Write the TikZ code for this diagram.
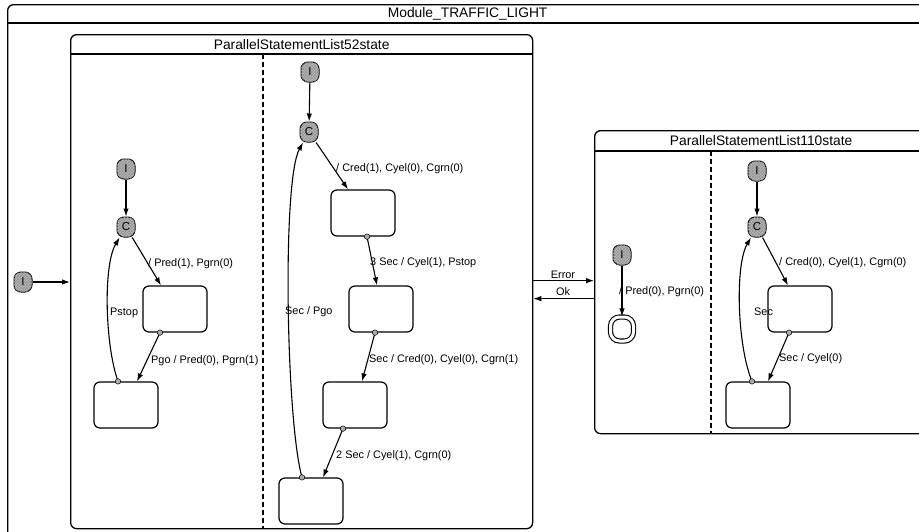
\documentclass[tikz,border=0pt]{standalone}
\usepackage{fontspec}
\setmainfont{Liberation Sans}
\usetikzlibrary{arrows.meta,patterns}
\begin{document}
\begin{tikzpicture}[x=1pt,y=-1pt,
  lw/.style={line width=1.2pt},
  box/.style={draw,line width=1.3pt,rounded corners=6pt,inner sep=0pt},
  st/.style={draw,line width=1.2pt,rounded corners=6pt,minimum width=64pt,minimum height=46pt,inner sep=0pt},
  ps/.style={draw,line width=1pt,rectangle,rounded corners=7pt,fill=gray!55,
    postaction={pattern=crosshatch,pattern color=gray!85},
    minimum width=18pt,minimum height=20pt,inner sep=0pt,font=\fontsize{11.5}{12}\selectfont},
  dotn/.style={draw,circle,fill=gray!65,minimum size=5.5pt,inner sep=0pt,line width=0.5pt},
  arr/.style={line width=1.1pt,-{Latex[length=8pt,width=5.5pt]}},
  lbl/.style={font=\fontsize{10.9}{12}\selectfont,inner sep=0pt,anchor=west},
  ttl/.style={font=\fontsize{13.8}{14}\selectfont,inner sep=0pt},
  sep/.style={line width=1.1pt,dash pattern=on 5pt off 3pt}
]
\useasboundingbox (0,0) rectangle (919,531);
\clip (0,0) rectangle (919,531);

% containers
\node[box,minimum width=920pt,minimum height=545pt,anchor=north west] (mod) at (7,4) {};
\draw[lw] ([yshift=-19pt]mod.north west) -- ([yshift=-19pt]mod.north east);
\node[ttl] (modt) at ([yshift=-10pt]mod.north) {Module\_TRAFFIC\_LIGHT};

\node[box,minimum width=462pt,minimum height=494pt,anchor=north west] (p52) at (70,34) {};
\draw[lw] ([yshift=-20pt]p52.north west) -- ([yshift=-20pt]p52.north east);
\node[ttl] (p52t) at ([yshift=-10.5pt]p52.north) {ParallelStatementList52state};
\coordinate (d52a) at (263,54);
\coordinate (d52b) at (263,528);
\draw[sep] (d52a) -- (d52b);

\node[box,minimum width=333pt,minimum height=303pt,anchor=north west] (p110) at (594,130) {};
\draw[lw] ([yshift=-21pt]p110.north west) -- ([yshift=-21pt]p110.north east);
\node[ttl] (p110t) at ([yshift=-11pt]p110.north) {ParallelStatementList110state};
\coordinate (d110a) at (711,151);
\coordinate (d110b) at (711,433);
\draw[sep] (d110a) -- (d110b);

% pseudo states
\node[ps] (i0) at (23,282) {I};
\node[ps] (i1) at (126,169) {I};
\node[ps] (c1) at (126,227) {C};
\node[ps] (i2) at (310,72) {I};
\node[ps] (c2) at (309,132) {C};
\node[ps] (i3) at (622,255) {I};
\node[ps] (i4) at (757,171) {I};
\node[ps] (c4) at (757,227) {C};
\node[draw,rectangle,rounded corners=9pt,line width=1.1pt,minimum width=23pt,minimum height=24pt,double,double distance=3pt,inner sep=0pt] (fin) at (622,329) {};

% states
\node[st] (sa) at (175,309) {};
\node[st] (sb) at (126,405) {};
\node[st] (s1) at (363,213) {};
\node[st] (s2) at (381,309) {};
\node[st] (s3) at (355,405) {};
\node[st] (s4) at (311,501) {};
\node[st] (s5) at (800,309) {};
\node[st] (s6) at (758,405) {};

% source dots (positions)
\coordinate (pa) at ([xshift=-15pt]sa.south);
\coordinate (pb) at ([xshift=-8pt]sb.north);
\coordinate (p1) at ([xshift=4pt]s1.south);
\coordinate (p2) at ([xshift=-6pt]s2.south);
\coordinate (p3) at ([xshift=-12pt]s3.south);
\coordinate (p4) at ([xshift=-9pt]s4.north);
\coordinate (p5) at ([xshift=-11pt]s5.south);
\coordinate (p6) at ([xshift=-6pt]s6.north);

% transitions
\draw[arr] (i0) -- (i0 -| p52.west);
\draw[arr] (i1) -- (c1);
\draw[arr] (c1) -- ([xshift=-14pt]sa.north);
\draw[arr] (pa) -- ([xshift=11pt]sb.north);
\draw[arr] (pb) .. controls (105,345) and (103,265) .. (c1);

\draw[arr] (i2) -- (c2);
\draw[arr] (c2) -- ([xshift=-15pt]s1.north);
\draw[arr] (p1) -- ([xshift=-4pt]s2.north);
\draw[arr] (p2) -- ([xshift=7pt]s3.north);
\draw[arr] (p3) -- ([xshift=12pt]s4.north);
\draw[arr] (p4) .. controls (286,420) and (282,180) .. (c2);

\draw[arr] ([yshift=1pt]p52.east) -- ([yshift=1.5pt]p110.west);
\draw[arr] ([yshift=-16.5pt]p110.west) -- ([yshift=-17pt]p52.east);

\draw[arr] (i3) -- (fin);
\draw[arr] (i4) -- (c4);
\draw[arr] (c4) -- ([xshift=-12pt]s5.north);
\draw[arr] (p5) -- ([xshift=10pt]s6.north);
\draw[arr] (p6) .. controls (737,345) and (735,265) .. (c4);

% dots on top
\foreach \p in {pa,pb,p1,p2,p3,p4,p5,p6} \node[dotn] (dot\p) at (\p) {};

% labels
\node[lbl] (la) at (148,264) {/ Pred(1), Pgrn(0)};
\node[lbl] (lb) at (110,313) {Pstop};
\node[lbl] (lc) at (151,361) {Pgo / Pred(0), Pgrn(1)};
\node[lbl] (l1) at (336,169) {/ Cred(1), Cyel(0), Cgrn(0)};
\node[lbl] (l2) at (370,263) {3 Sec / Cyel(1), Pstop};
\node[lbl] (l3) at (369,360) {Sec / Cred(0), Cyel(0), Cgrn(1)};
\node[lbl] (l4) at (336,456) {2 Sec / Cyel(1), Cgrn(0)};
\node[lbl] (l5) at (285,312) {Sec / Pgo};
\node[lbl,anchor=center] (lerr) at (563,275) {Error};
\node[lbl,anchor=center] (lok) at (563,292) {Ok};
\node[lbl] (l6) at (619,292) {/ Pred(0), Pgrn(0)};
\node[lbl] (l7) at (779,263) {/ Cred(0), Cyel(1), Cgrn(0)};
\node[lbl] (l8) at (779,359) {Sec / Cyel(0)};
\node[lbl] (l9) at (754,312) {Sec};
\end{tikzpicture}
\end{document}
